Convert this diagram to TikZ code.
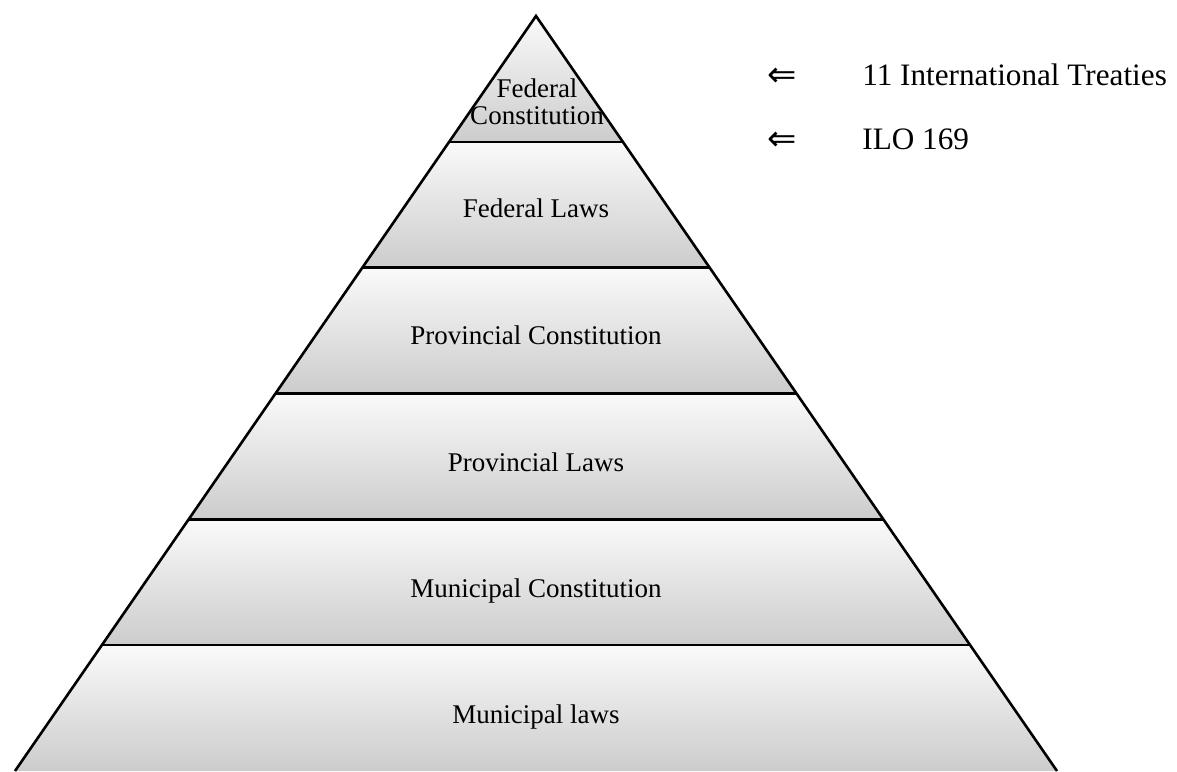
\documentclass[tikz,border=0pt]{standalone}
\usepackage{fontspec}
\setmainfont{Liberation Serif}
\newfontfamily\arrowfont{DejaVu Sans}
\usetikzlibrary{calc}

\begin{document}
\begin{tikzpicture}[
    x=0.5pt, y=0.5pt,
    band/.style={top color=gray!4, bottom color=gray!40, draw=none},
    edge/.style={line width=1.3pt, line join=miter},
    tier/.style={anchor=base, inner sep=0pt, align=center, font=\fontsize{13.5}{13.5}\selectfont},
    note/.style={anchor=base west, inner sep=0pt, font=\fontsize{15.6}{18}\selectfont},
    pointer/.style={anchor=base west, inner sep=0pt, font=\arrowfont\fontsize{17.5}{18}\selectfont}
]
    % 0. Page frame
    \useasboundingbox (0,0) rectangle (1177,771);

    % 1. Pyramid corners (base sits on the lower edge)
    \coordinate (apex) at (536,755);
    \coordinate (bl) at (15,0);
    \coordinate (br) at (1057,0);

    % 2. Six shaded tiers, top to bottom
    \foreach \k in {0,...,5} {
        \pgfmathsetmacro{\a}{\k/6}
        \pgfmathsetmacro{\b}{(\k+1)/6}
        \shade[band] ($(apex)!\a!(bl)$) -- ($(apex)!\a!(br)$) -- ($(apex)!\b!(br)$) -- ($(apex)!\b!(bl)$) -- cycle;
    }

    % 3. Outline and tier separators
    \draw[edge] (bl) -- (apex) -- (br);
    \foreach \k in {1,...,5}
        \draw[edge] ($(apex)!{\k/6}!(bl)$) -- ($(apex)!{\k/6}!(br)$);

    % 4. Tier labels
    \node[tier, anchor=center] (fedconst) at (537,669) {Federal\\Constitution};
    \node[tier] (fedlaws) at (536,553) {Federal Laws};
    \node[tier] (provconst) at (536,426) {Provincial Constitution};
    \node[tier] (provlaws) at (536,299) {Provincial Laws};
    \node[tier] (municonst) at (536,173) {Municipal Constitution};
    \node[tier] (munilaws) at (536,48) {Municipal laws};

    % 5. Side notes
    \node[pointer] (treatyarrow) at (767,684) {⇐};
    \node[note] (treaties) at (862,685) {11 International Treaties};
    \node[pointer] (iloarrow) at (767,620) {⇐};
    \node[note] (ilo) at (862,621) {ILO 169};

\end{tikzpicture}
\end{document}
